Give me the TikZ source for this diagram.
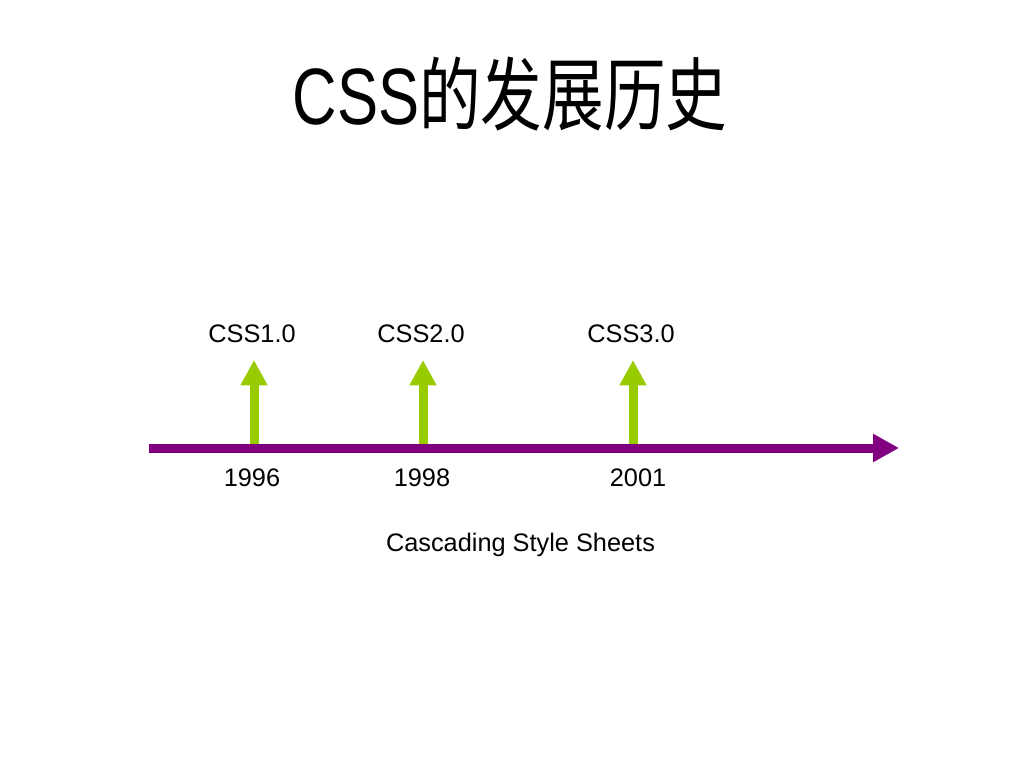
\documentclass[tikz,border=0pt]{standalone}
\usepackage{fontspec}
\setmainfont{Liberation Sans}
\newfontfamily\cjk{Noto Sans CJK SC}
\usetikzlibrary{arrows.meta}
\definecolor{tlpurple}{HTML}{800080}
\definecolor{tlgreen}{HTML}{99CC00}
\tikzset{
  lbl/.style={font=\fontsize{19}{22}\selectfont, inner sep=0pt, anchor=base},
  timeline/.style={draw=tlpurple, line width=6.75pt, -{Triangle[length=19.5pt,width=20pt]}},
  release/.style={draw=tlgreen, line width=6.75pt, -{Triangle[length=19pt,width=19pt]}, shorten <=-0.1pt},
}
\begin{document}
\begin{tikzpicture}[x=0.75pt,y=-0.75pt]
\useasboundingbox (0,0) rectangle (1024,768);
\fill[white] (0,0) rectangle (1024,768);
% title
\node[inner sep=0pt, anchor=base, xscale=0.77, transform shape, font=\fontsize{60}{70}\selectfont] (title) at (510,124) {CSS{\cjk 的发展历史}};
% timeline
\coordinate (tstart) at (149,448);
\coordinate (tend) at (899,448);
\draw[timeline] (tstart) -- (tend);
% release markers
\coordinate (b1) at (254,444);
\coordinate (t1) at (254,360);
\coordinate (b2) at (423,444);
\coordinate (t2) at (423,360);
\coordinate (b3) at (633,444);
\coordinate (t3) at (633,360);
\draw[release] (b1) -- (t1);
\draw[release] (b2) -- (t2);
\draw[release] (b3) -- (t3);
% labels
\node[lbl] (v1) at (252,342) {CSS1.0};
\node[lbl] (v2) at (421,342) {CSS2.0};
\node[lbl] (v3) at (631,342) {CSS3.0};
\node[lbl] (y1) at (252,486) {1996};
\node[lbl] (y2) at (422,486) {1998};
\node[lbl] (y3) at (638,486) {2001};
\node[lbl] (cap) at (520.5,551.5) {Cascading Style Sheets};
\end{tikzpicture}
\end{document}
